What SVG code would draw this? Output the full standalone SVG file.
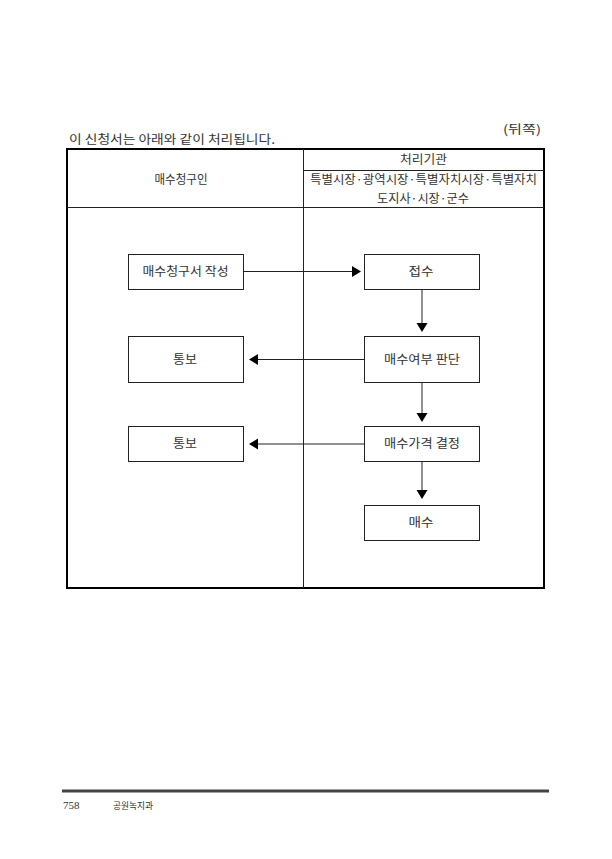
<svg xmlns="http://www.w3.org/2000/svg" width="612" height="859" viewBox="0 0 612 859">
<style>
text{font-family:"Noto Sans CJK KR","Noto Sans",sans-serif;fill:#333;font-size:12px}
.c{text-anchor:middle}
.box{fill:#fff;stroke:#222;stroke-width:1}
.ln{stroke:#222;stroke-width:1;fill:none}
.ah{fill:#000}
</style>
<rect width="612" height="859" fill="#fff"/>
<text x="69" y="144" textLength="206" lengthAdjust="spacingAndGlyphs">이 신청서는 아래와 같이 처리됩니다.</text>
<text x="541" y="134" text-anchor="end" textLength="38" lengthAdjust="spacingAndGlyphs">(뒤쪽)</text>
<g id="table">
<rect x="67" y="149" width="477" height="439" fill="none" stroke="#000" stroke-width="2"/>
<line class="ln" x1="303.5" y1="149" x2="303.5" y2="588"/>
<line class="ln" x1="303.5" y1="170.5" x2="544" y2="170.5"/>
<line class="ln" x1="67" y1="207.5" x2="544" y2="207.5"/>
<text class="c" x="181" y="184" textLength="53" lengthAdjust="spacingAndGlyphs">매수청구인</text>
<text class="c" x="423.5" y="164" textLength="47" lengthAdjust="spacingAndGlyphs">처리기관</text>
<text class="c" x="423.5" y="184" textLength="227" lengthAdjust="spacingAndGlyphs">특별시장·광역시장·특별자치시장·특별자치</text>
<text class="c" x="423" y="203" textLength="92" lengthAdjust="spacingAndGlyphs">도지사·시장·군수</text>
</g>
<g id="n1"><rect class="box" x="128.5" y="254.5" width="115" height="35"/><text class="c" x="185.5" y="276" textLength="86" lengthAdjust="spacingAndGlyphs">매수청구서 작성</text></g>
<g id="n2"><rect class="box" x="364.5" y="254.5" width="115" height="35"/><text class="c" x="421" y="276" textLength="25" lengthAdjust="spacingAndGlyphs">접수</text></g>
<g id="n3"><rect class="box" x="128.5" y="336.5" width="115" height="46"/><text class="c" x="185" y="364" textLength="24" lengthAdjust="spacingAndGlyphs">통보</text></g>
<g id="n4"><rect class="box" x="364.5" y="336.5" width="115" height="46"/><text class="c" x="422" y="364" textLength="76" lengthAdjust="spacingAndGlyphs">매수여부 판단</text></g>
<g id="n5"><rect class="box" x="128.5" y="426.5" width="115" height="35"/><text class="c" x="185" y="448" textLength="24" lengthAdjust="spacingAndGlyphs">통보</text></g>
<g id="n6"><rect class="box" x="364.5" y="426.5" width="115" height="35"/><text class="c" x="422" y="448" textLength="76" lengthAdjust="spacingAndGlyphs">매수가격 결정</text></g>
<g id="n7"><rect class="box" x="364.5" y="505.5" width="115" height="35"/><text class="c" x="421" y="527" textLength="25" lengthAdjust="spacingAndGlyphs">매수</text></g>
<g id="connectors">
<line class="ln" x1="243.5" y1="271.5" x2="352" y2="271.5"/>
<polygon class="ah" points="352,266 361,271.5 352,277"/>
<line class="ln" x1="422" y1="289.5" x2="422" y2="323"/>
<polygon class="ah" points="416.5,323 427.5,323 422,332"/>
<line class="ln" x1="364.5" y1="359.5" x2="258" y2="359.5"/>
<polygon class="ah" points="258,354 249,359.5 258,365"/>
<line class="ln" x1="422" y1="382.5" x2="422" y2="413"/>
<polygon class="ah" points="416.5,413 427.5,413 422,422"/>
<line class="ln" x1="364.5" y1="444" x2="258" y2="444"/>
<polygon class="ah" points="258,438.5 249,444 258,449.5"/>
<line class="ln" x1="422" y1="461.5" x2="422" y2="490"/>
<polygon class="ah" points="416.5,490 427.5,490 422,499"/>
</g>
<line x1="62" y1="791" x2="549" y2="791" stroke="#444" stroke-width="3"/>
<text x="63" y="809" style="font-family:'Liberation Serif',serif;font-size:11px">758</text>
<text x="113" y="809" textLength="40" lengthAdjust="spacingAndGlyphs" style="font-size:9px">공원녹지과</text>
</svg>
